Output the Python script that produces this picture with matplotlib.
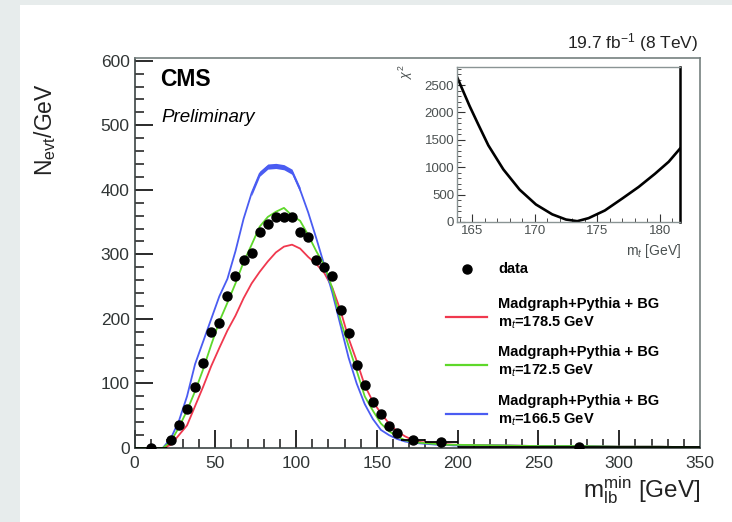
import matplotlib
matplotlib.use('Agg')
import matplotlib.pyplot as plt
from matplotlib.patches import Rectangle
from matplotlib.lines import Line2D
from matplotlib.ticker import MultipleLocator

plt.rcParams['font.family'] = 'Liberation Sans'
plt.rcParams['mathtext.fontset'] = 'custom'
plt.rcParams['mathtext.rm'] = 'Liberation Sans'
plt.rcParams['mathtext.it'] = 'Liberation Sans:italic'
plt.rcParams['mathtext.bf'] = 'Liberation Sans:bold'

# m_lb^min distribution: simulation at three top masses (bin centres, GeV)
mc_x = [0, 17.5, 22.5, 27.5, 32.5, 37.5, 42.5, 47.5, 52.5, 57.5, 62.5, 67.5, 72.5, 77.5,
        82.5, 87.5, 92.5, 97.5, 102.5, 107.5, 112.5, 117.5, 122.5, 127.5, 132.5, 137.5,
        142.5, 147.5, 152.5, 157.5, 162.5, 167.5, 172.5, 177.5, 182.5, 187.5, 192.5, 197.5,
        225, 250, 275, 300, 325, 350]
mc_1785 = [0, 0, 5, 20, 35, 65, 95, 127, 155, 182, 205, 232, 255, 273, 289, 303, 312, 315,
           309, 296, 285, 271, 248, 213, 170, 135, 97, 72, 54, 38, 26, 18, 12, 9, 8, 7, 6, 5,
           4, 3, 3, 2, 2, 1]
mc_1725 = [0, 0, 10, 32, 58, 88, 122, 160, 196, 225, 255, 288, 315, 343, 358, 366, 372, 360,
           352, 330, 305, 283, 247, 198, 158, 120, 80, 58, 38, 26, 18, 12, 9, 8, 7, 6, 5, 5,
           4, 3, 3, 2, 2, 1]
mc_1665 = [0, 0, 15, 42, 80, 130, 165, 200, 235, 262, 305, 355, 395, 425, 436, 437, 435, 428,
           400, 365, 325, 283, 240, 190, 140, 100, 68, 45, 28, 20, 14, 10, 8, 7, 6, 5, 5, 4,
           4, 3, 3, 2, 2, 1]

# measured points
data_x = [10, 22.5, 27.5, 32.5, 37.5, 42.5, 47.5, 52.5, 57.5, 62.5, 67.5, 72.5, 77.5, 82.5,
          87.5, 92.5, 97.5, 102.5, 107.5, 112.5, 117.5, 122.5, 127.5, 132.5, 137.5, 142.5,
          147.5, 152.5, 157.5, 162.5, 172.5, 190, 275]
data_y = [0, 12, 36, 60, 94, 131, 180, 193, 235, 266, 291, 302, 334, 347, 358, 358, 358, 334,
          327, 291, 281, 266, 214, 178, 129, 98, 72, 53, 34, 23, 12, 9, 2]
data_halfwidth = [10] + [2.5] * 29 + [7.5, 10, 75]

# chi2 scan versus top mass (inset)
scan_mt = [163.8, 164.8, 165.5, 166.3, 167.5, 168.8, 170.1, 171.4, 172.5, 173.4, 174.3,
           175.6, 177.0, 178.3, 179.6, 180.7, 181.6]
scan_chi2 = [2650, 2120, 1780, 1400, 960, 590, 320, 140, 45, 15, 70, 210, 430, 640, 880,
             1100, 1340]

legend_labels = ['Madgraph+Pythia + BG\nm$_t$=178.5 GeV',
                 'Madgraph+Pythia + BG\nm$_t$=172.5 GeV',
                 'Madgraph+Pythia + BG\nm$_t$=166.5 GeV']

c_red = '#f0384e'
c_green = '#5ed82a'
c_blue = '#4a5cf2'
spine_col = '#75807f'

W, H = 732, 522
fig = plt.figure(figsize=(W / 100, H / 100), dpi=100)
fig.patch.set_facecolor('#e7ecec')
fig.add_artist(Rectangle((20 / W, 0), 1, 517 / H, transform=fig.transFigure,
                         facecolor='white', edgecolor='none', zorder=-5))

def fx(px):
    return px / W

def fy(py):
    return 1 - py / H

ax = fig.add_axes([fx(134.5), fy(448), 565.5 / W, 390.5 / H])
ax.plot(mc_x, mc_1785, color=c_red, lw=1.3, zorder=2)
ax.plot(mc_x, mc_1725, color=c_green, lw=1.3, zorder=3)
ax.plot(mc_x, mc_1665, color=c_blue, lw=1.3, zorder=2)
ax.fill_between(mc_x[12:19], [y - 4 for y in mc_1665[12:19]], [y + 4 for y in mc_1665[12:19]],
                color=c_blue, lw=0, zorder=2)
ax.errorbar(data_x, data_y, xerr=data_halfwidth, fmt='o', color='black', ms=6.5,
            elinewidth=1.3, capsize=0, zorder=4)

ax.set_xlim(0, 350)
ax.set_ylim(0, 605)
ax.xaxis.set_major_locator(MultipleLocator(50))
ax.xaxis.set_minor_locator(MultipleLocator(10))
ax.yaxis.set_major_locator(MultipleLocator(100))
ax.yaxis.set_minor_locator(MultipleLocator(20))
ax.tick_params(which='both', direction='in', labelsize=12.5, labelcolor='#303535')
ax.tick_params(which='major', length=13, width=1.4, color='#2a2a2a')
ax.tick_params(which='minor', length=6.5, width=1.2, color='#2a2a2a')
ax.tick_params(axis='x', pad=6)
for s in ax.spines.values():
    s.set_color(spine_col)
    s.set_linewidth(1.2)
ax.spines['left'].set_color('#3c4444')
ax.spines['bottom'].set_color('#3c4444')

fig.text(fx(160), fy(80), 'CMS', fontsize=16.5, fontweight='bold', va='center', ha='left')
fig.text(fx(161), fy(117), 'Preliminary', fontsize=13.5, style='italic', va='center', ha='left')
fig.text(fx(698), fy(43), '19.7 fb$^{-1}$ (8 TeV)', fontsize=12.5, ha='right', va='center',
         color='#222222')
fig.text(fx(45), fy(130), 'N$_{\\rm evt}$/GeV', fontsize=16.5, rotation=90, ha='center',
         va='center', color='#222222')
fig.text(fx(700), fy(490), 'm$_{\\rm lb}^{\\rm min}$ [GeV]', fontsize=17.5, ha='right',
         va='center', color='#222222')

# legend
fig.add_artist(Line2D([fx(467)], [fy(269)], marker='o', color='black', ms=6.5, ls='none'))
fig.text(fx(498), fy(269), 'data', fontsize=10.5, fontweight='bold', va='center')
for col, lab, ly in zip([c_red, c_green, c_blue], legend_labels, [317, 365, 414]):
    fig.add_artist(Line2D([fx(446), fx(487)], [fy(ly), fy(ly)], color=col, lw=1.6))
    l1, l2 = lab.split('\n')
    fig.text(fx(498), fy(ly - 13), l1, fontsize=10.5, fontweight='bold', va='center')
    fig.text(fx(498), fy(ly + 6), l2, fontsize=10.5, fontweight='bold', va='center')

# inset: chi2 scan
axin = fig.add_axes([fx(457), fy(222), 223 / W, 155 / H])
axin.plot(scan_mt, scan_chi2, color='black', lw=1.9)
axin.set_xlim(163.8, 181.6)
axin.set_ylim(0, 2830)
axin.xaxis.set_major_locator(MultipleLocator(5))
axin.xaxis.set_minor_locator(MultipleLocator(1))
axin.yaxis.set_major_locator(MultipleLocator(500))
axin.yaxis.set_minor_locator(MultipleLocator(100))
axin.tick_params(which='both', direction='in', labelsize=9.5, labelcolor='#4a5050', pad=2)
axin.tick_params(which='major', length=6, color='#333333')
axin.tick_params(which='minor', length=3, color='#333333')
for s in axin.spines.values():
    s.set_color('#8a9494')
    s.set_linewidth(1.0)
axin.spines['right'].set_color('black')
axin.spines['right'].set_linewidth(1.8)
fig.text(fx(406), fy(72), '$\\chi^2$', fontsize=9, rotation=90, ha='center', va='center',
         color='#4a5050')
fig.text(fx(681), fy(251), 'm$_t$ [GeV]', fontsize=10, ha='right', va='center', color='#4a5050')

fig.savefig('out.png', dpi=100, facecolor=fig.get_facecolor())
